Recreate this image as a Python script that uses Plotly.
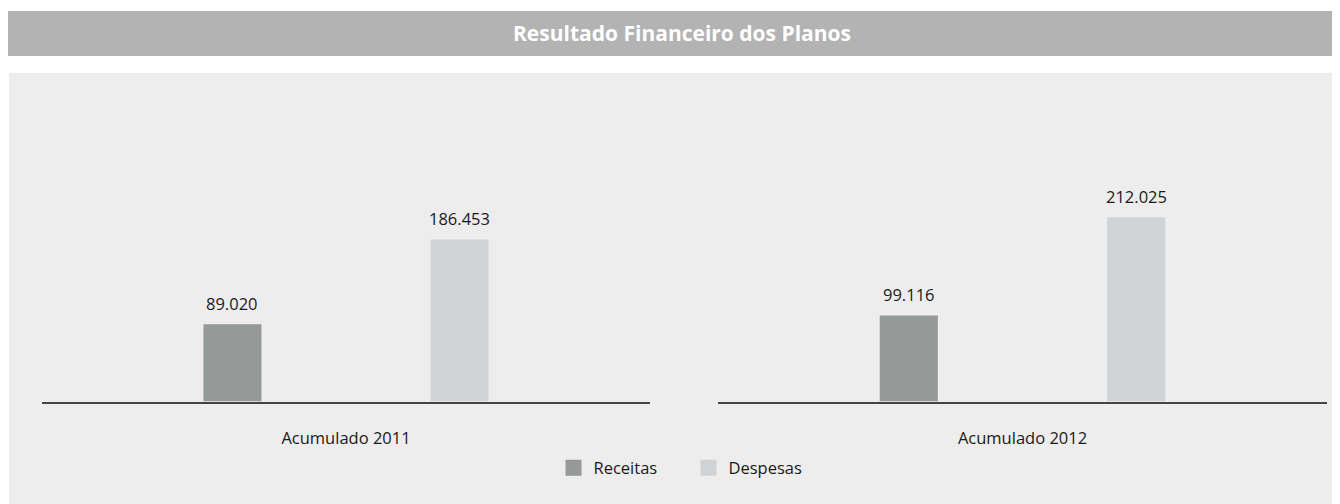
import plotly.graph_objects as go

# Data
periods = ["Acumulado 2011", "Acumulado 2012"]
series_names = ["Receitas", "Despesas"]
receitas = [89020, 99116]
despesas = [186453, 212025]
series_colors = ["#959998", "#d0d3d6"]

# the page body adds an 8px margin, so the figure is 8px smaller than the window
PAGE_OFF = 8
W, H = 1340 - PAGE_OFF, 504 - PAGE_OFF
BARGAP = 0.253
FONT = "Open Sans"


def px_x(p):
    # page pixel -> paper fraction
    return max(0.0, (p - PAGE_OFF) / W)


def px_y(p):
    return 1 - (p - PAGE_OFF) / H


def fmt(v):
    # Brazilian thousands separator
    return f"{v:,}".replace(",", ".")


fig = go.Figure()

# One subplot per period, bars grouped inside
domains = [(px_x(42), px_x(650)), (px_x(718), px_x(1327))]
series_values = [receitas, despesas]

for i, period in enumerate(periods):
    xa = "x" if i == 0 else f"x{i + 1}"
    ya = "y" if i == 0 else f"y{i + 1}"
    for j, name in enumerate(series_names):
        fig.add_trace(go.Bar(
            x=[period],
            y=[series_values[j][i]],
            name=name,
            marker=dict(color=series_colors[j], line=dict(width=0)),
            xaxis=xa,
            yaxis=ya,
            offsetgroup=str(j),
            showlegend=False,
            legendgroup=name,
            hoverinfo="skip",
        ))
        # value label above each bar
        offset = (1 - BARGAP) / 4 * (-1 if j == 0 else 1)
        fig.add_annotation(
            x=offset, y=series_values[j][i],
            xref=xa, yref=ya, yanchor="middle",
            text=fmt(series_values[j][i]),
            showarrow=False, yshift=21,
            font=dict(family=FONT, size=16.5, color="#1a1a1a"),
        )

# legend proxies so the swatches are bigger squares
for j, name in enumerate(series_names):
    fig.add_trace(go.Scatter(
        x=[None], y=[None], mode="markers", name=name, legendgroup=name,
        marker=dict(symbol="square", size=16, color=series_colors[j]),
        hoverinfo="skip",
    ))

axis_common = dict(
    showgrid=False, zeroline=False,
)
x_common = dict(
    type="category", range=[-0.5, 0.5], showline=True, linecolor="#444444",
    linewidth=1.5, ticks="", ticklabelstandoff=21,
    tickfont=dict(family=FONT, size=16.5, color="#1a1a1a"), fixedrange=True,
    **axis_common,
)
y_common = dict(
    range=[0, 347000], showticklabels=False, showline=False,
    domain=[px_y(401.5), px_y(100)], **axis_common,
)

fig.update_layout(
    width=W, height=H,
    margin=dict(l=0, r=0, t=0, b=0),
    paper_bgcolor="white",
    plot_bgcolor="rgba(0,0,0,0)",
    barmode="group",
    bargap=BARGAP,
    bargroupgap=0.7446,
    xaxis=dict(domain=list(domains[0]), anchor="y", **x_common),
    xaxis2=dict(domain=list(domains[1]), anchor="y2", **x_common),
    yaxis=dict(anchor="x", **y_common),
    yaxis2=dict(anchor="x2", **y_common),
    legend=dict(
        orientation="h", x=px_x(688.5), xanchor="center", y=px_y(468), yanchor="middle",
        font=dict(family=FONT, size=16.5, color="#1a1a1a"),
        bgcolor="rgba(0,0,0,0)", itemwidth=30, entrywidth=90,
    ),
    shapes=[
        # title bar
        dict(type="rect", xref="paper", yref="paper", x0=px_x(4), x1=1,
             y0=px_y(56), y1=px_y(11), fillcolor="#b3b3b3", line=dict(width=0),
             layer="below"),
        # chart panel
        dict(type="rect", xref="paper", yref="paper", x0=px_x(9), x1=1,
             y0=0, y1=px_y(73), fillcolor="#ededed", line=dict(width=0),
             layer="below"),
    ],
)

fig.add_annotation(
    x=px_x(682), y=px_y(33.5), xref="paper", yref="paper", yanchor="middle",
    text="<b>Resultado Financeiro dos Planos</b>", showarrow=False,
    font=dict(family=FONT, size=21, color="white"),
)

fig.write_html("out.html", config={"displayModeBar": False})
